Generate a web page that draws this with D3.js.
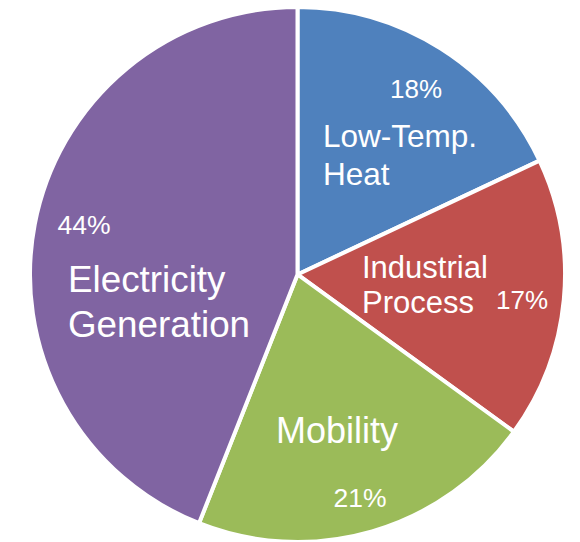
<!DOCTYPE html>
<html>
<head>
<meta charset="utf-8">
<script src="https://cdn.jsdelivr.net/npm/d3@7"></script>
<style>
  html, body { margin: 0; padding: 0; background: #fff; }
  svg { display: block; }
</style>
</head>
<body>
<svg id="chart" width="580" height="542"></svg>
<script>
// Energy demand shares by end use, clockwise from 12 o'clock
const categories = ["Low-Temp. Heat", "Industrial Process", "Mobility", "Electricity Generation"];
const shares = [18, 17, 21, 44];
const colors = ["#4F81BD", "#C0504D", "#9BBB59", "#8064A2"];

// Label placement (name lines and percentage text) per slice
const labelLayout = [
  { lines: ["Low-Temp.", "Heat"], nameX: 323, nameY: 147, lineGap: 38, nameSize: 31.5,
    pctX: 416, pctY: 98, pctAnchor: "middle", pctSize: 26, font: "Liberation Sans" },
  { lines: ["Industrial", "Process"], nameX: 362, nameY: 278, lineGap: 35, nameSize: 31,
    pctX: 522, pctY: 309, pctAnchor: "middle", pctSize: 26, font: "Liberation Sans" },
  { lines: ["Mobility"], nameX: 337, nameY: 443, lineGap: 0, nameSize: 36, nameAnchor: "middle",
    pctX: 360, pctY: 507, pctAnchor: "middle", pctSize: 26.5, font: "Liberation Sans" },
  { lines: ["Electricity", "Generation"], nameX: 68, nameY: 292, lineGap: 45, nameSize: 36.8,
    pctX: 84, pctY: 234, pctAnchor: "middle", pctSize: 26.5, font: "Liberation Sans" }
];

const svg = d3.select("#chart");
const cx = 297.5, cy = 274.5, radius = 267.5;

const data = categories.map((c, i) => ({ name: c, value: shares[i], color: colors[i], layout: labelLayout[i] }));

const pie = d3.pie().value(d => d.value).sort(null);
const arc = d3.arc().innerRadius(0).outerRadius(radius);

const g = svg.append("g").attr("transform", `translate(${cx},${cy})`);

g.selectAll("path.slice")
  .data(pie(data))
  .join("path")
  .attr("class", "slice")
  .attr("d", arc)
  .attr("fill", d => d.data.color)
  .attr("stroke", "#fff")
  .attr("stroke-width", 4)
  .attr("stroke-linejoin", "miter");

const labels = svg.append("g").attr("fill", "#fff");

data.forEach(d => {
  const L = d.layout;
  const t = labels.append("text")
    .attr("font-family", `'${L.font}', Arial, sans-serif`)
    .attr("font-size", L.nameSize)
    .attr("text-anchor", L.nameAnchor || "start");
  L.lines.forEach((line, i) => {
    t.append("tspan").attr("x", L.nameX).attr("y", L.nameY + i * L.lineGap).text(line);
  });
  labels.append("text")
    .attr("font-family", `'${L.font}', Arial, sans-serif`)
    .attr("font-size", L.pctSize)
    .attr("text-anchor", L.pctAnchor)
    .attr("x", L.pctX)
    .attr("y", L.pctY)
    .text(d3.format("d")(d.value) + "%");
});
</script>
</body>
</html>
